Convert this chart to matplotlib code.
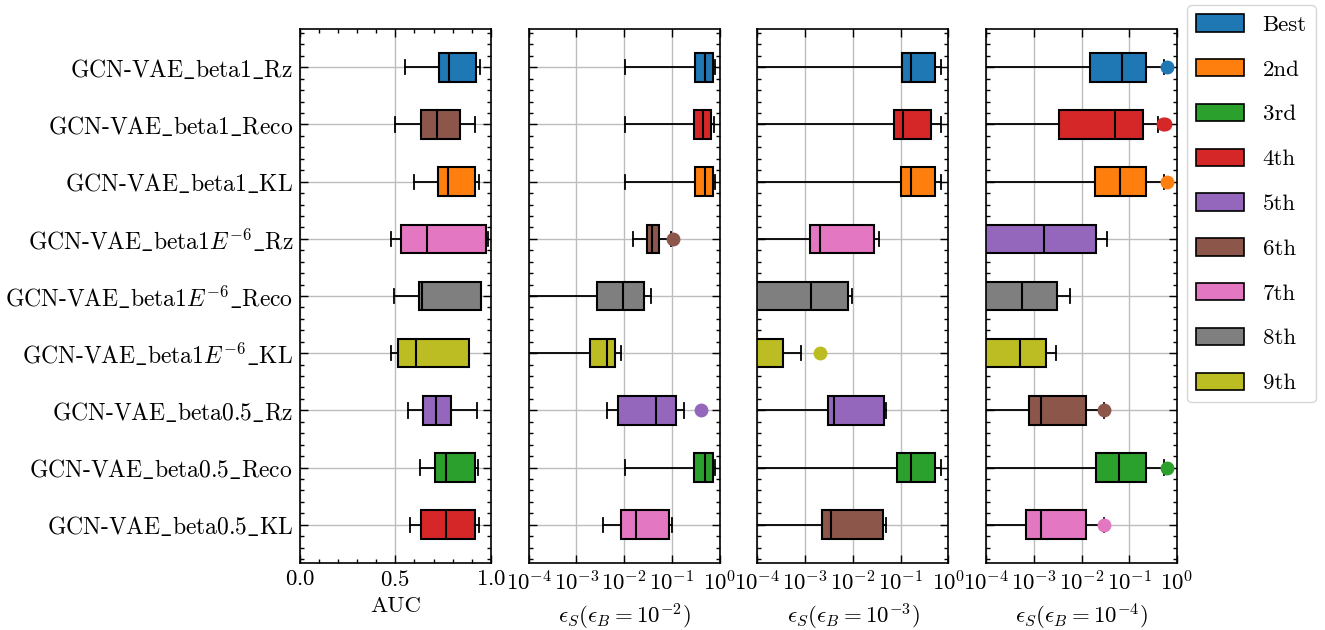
import numpy as np
import matplotlib
matplotlib.use("Agg")
import matplotlib.pyplot as plt
from matplotlib.patches import Patch

plt.rcParams['font.family'] = ['cmr10', 'DejaVu Serif']
plt.rcParams['mathtext.fontset'] = 'cm'
plt.rcParams['axes.formatter.use_mathtext'] = True
plt.rcParams['font.size'] = 16.5

# model names, top to bottom
names = [r"GCN-VAE$\_$beta1$\_$Rz", r"GCN-VAE$\_$beta1$\_$Reco", r"GCN-VAE$\_$beta1$\_$KL",
         r"GCN-VAE$\_$beta1$E^{-6}\_$Rz", r"GCN-VAE$\_$beta1$E^{-6}\_$Reco", r"GCN-VAE$\_$beta1$E^{-6}\_$KL",
         r"GCN-VAE$\_$beta0.5$\_$Rz", r"GCN-VAE$\_$beta0.5$\_$Reco", r"GCN-VAE$\_$beta0.5$\_$KL"]

rank_labels = ["Best", "2nd", "3rd", "4th", "5th", "6th", "7th", "8th", "9th"]

# box stats per model: (whislo, q1, med, q3, whishi)
auc_box = [(0.551, 0.731, 0.782, 0.921, 0.946),
           (0.499, 0.632, 0.717, 0.839, 0.918),
           (0.599, 0.721, 0.775, 0.918, 0.939),
           (0.475, 0.529, 0.665, 0.975, 0.988),
           (0.494, 0.625, 0.637, 0.949, 0.949),
           (0.476, 0.515, 0.609, 0.888, 0.888),
           (0.564, 0.646, 0.712, 0.794, 0.930),
           (0.630, 0.709, 0.766, 0.915, 0.934),
           (0.579, 0.634, 0.768, 0.918, 0.937)]
auc_fliers = [[], [], [], [], [], [], [], [], []]
auc_rank = [1, 6, 2, 7, 8, 9, 5, 3, 4]

eff2_box = [(0.0106, 0.309, 0.50, 0.748, 0.824),
            (0.0106, 0.285, 0.457, 0.67, 0.76),
            (0.0106, 0.30, 0.50, 0.748, 0.82),
            (0.0155, 0.0296, 0.0383, 0.0545, 0.094),
            (1e-6, 0.00274, 0.0093, 0.0256, 0.0365),
            (1e-6, 0.00189, 0.00445, 0.00643, 0.00845),
            (0.00445, 0.00743, 0.0472, 0.124, 0.179),
            (0.0106, 0.285, 0.493, 0.748, 0.81),
            (0.0036, 0.00845, 0.0174, 0.0855, 0.1)]
eff2_fliers = [[], [], [], [0.105], [], [], [0.40], [], []]
eff2_rank = [1, 4, 2, 6, 8, 9, 5, 3, 7]

eff3_box = [(1e-6, 0.105, 0.167, 0.525, 0.711),
            (1e-6, 0.0725, 0.112, 0.438, 0.70),
            (1e-6, 0.103, 0.164, 0.525, 0.711),
            (1e-6, 0.00127, 0.0020, 0.0275, 0.0345),
            (1e-6, 1e-6, 0.00133, 0.0079, 0.00966),
            (1e-6, 1e-6, 1e-6, 0.00035, 0.00082),
            (1e-6, 0.00299, 0.00412, 0.0447, 0.0484),
            (1e-6, 0.0824, 0.164, 0.525, 0.711),
            (1e-6, 0.00227, 0.00356, 0.0431, 0.0484)]
eff3_fliers = [[], [], [], [], [], [0.00206], [], [], []]
eff3_rank = [1, 4, 2, 7, 8, 9, 5, 3, 6]

eff4_box = [(1e-6, 0.0149, 0.0689, 0.227, 0.532),
            (1e-6, 0.0034, 0.0499, 0.196, 0.405),
            (1e-6, 0.0194, 0.0625, 0.227, 0.532),
            (1e-6, 1e-6, 0.00165, 0.0203, 0.0345),
            (1e-6, 1e-6, 0.00055, 0.0031, 0.00578),
            (1e-6, 1e-6, 0.000516, 0.00182, 0.00288),
            (1e-6, 0.00078, 0.0014, 0.0121, 0.0293),
            (1e-6, 0.0203, 0.0617, 0.227, 0.532),
            (1e-6, 0.00067, 0.00138, 0.0121, 0.0293)]
eff4_fliers = [[0.607], [0.50, 0.569], [0.607], [], [], [], [0.030], [0.607], [0.030]]
eff4_rank = [1, 4, 2, 5, 8, 9, 6, 3, 7]

panels = [(auc_box, auc_fliers, auc_rank, "AUC", False),
          (eff2_box, eff2_fliers, eff2_rank, r"$\epsilon_S(\epsilon_B=10^{-2})$", True),
          (eff3_box, eff3_fliers, eff3_rank, r"$\epsilon_S(\epsilon_B=10^{-3})$", True),
          (eff4_box, eff4_fliers, eff4_rank, r"$\epsilon_S(\epsilon_B=10^{-4})$", True)]

colors = plt.get_cmap("tab10").colors

fig, axes = plt.subplots(1, 4, figsize=(13.25, 6.3), dpi=100, sharey=True)
fig.subplots_adjust(left=0.2264, right=0.8883, bottom=0.1063, top=0.954, wspace=0.199)

pos = np.arange(1, len(names) + 1)

for ax, (box, fl, rank, xlabel, logx) in zip(axes, panels):
    stats = []
    for b, f in zip(box, fl):
        stats.append(dict(whislo=b[0], q1=b[1], med=b[2], q3=b[3], whishi=b[4], fliers=f))
    ax.set_axisbelow(True)
    ax.grid(True, color="#bdbdbd", linewidth=1.0)
    bp = ax.bxp(stats, positions=pos, vert=False, widths=0.5, patch_artist=True,
                boxprops=dict(linewidth=1.5, edgecolor="black"),
                medianprops=dict(color="black", linewidth=1.5),
                whiskerprops=dict(color="black", linewidth=1.3),
                capprops=dict(color="black", linewidth=1.3))
    for i, r in enumerate(rank):
        c = colors[r - 1]
        bp["boxes"][i].set_facecolor(c)
        bp["fliers"][i].set(marker="o", markerfacecolor=c, markeredgecolor="none",
                            markersize=10, linestyle="none")
    if logx:
        ax.set_xscale("log")
        ax.set_xlim(1e-4, 1)
        ax.set_xticks([1e-4, 1e-3, 1e-2, 1e-1, 1])
        ax.xaxis.set_minor_locator(matplotlib.ticker.NullLocator())
    else:
        ax.set_xlim(0, 1)
        ax.set_xticks([0, 0.5, 1.0])
        ax.xaxis.set_minor_locator(matplotlib.ticker.MultipleLocator(0.1))
    ax.yaxis.set_minor_locator(matplotlib.ticker.MultipleLocator(0.2))
    ax.tick_params(which="both", direction="in", top=True, right=True)
    ax.tick_params(which="major", length=6, width=1.0, pad=5)
    ax.tick_params(which="minor", length=3, width=1.0)
    ax.tick_params(axis="y", labelsize=17)
    ax.set_xlabel(xlabel, labelpad=5)
    for s in ax.spines.values():
        s.set_linewidth(1.2)

axes[0].set_yticks(pos)
axes[0].set_yticklabels(names)
axes[0].set_ylim(9.67, 0.33)
for ax in axes[1:]:
    ax.tick_params(labelleft=False)

handles = [Patch(facecolor=colors[i], edgecolor="black", linewidth=1.2) for i in range(9)]
fig.legend(handles, rank_labels, loc="upper left", bbox_to_anchor=(1187 / 1325, 1 - 5 / 630),
           borderaxespad=0, handlelength=2.1, handleheight=0.8, labelspacing=1.05,
           handletextpad=0.8, borderpad=0.4, fancybox=True, edgecolor="#cccccc")

plt.savefig("out.png", dpi=100)
